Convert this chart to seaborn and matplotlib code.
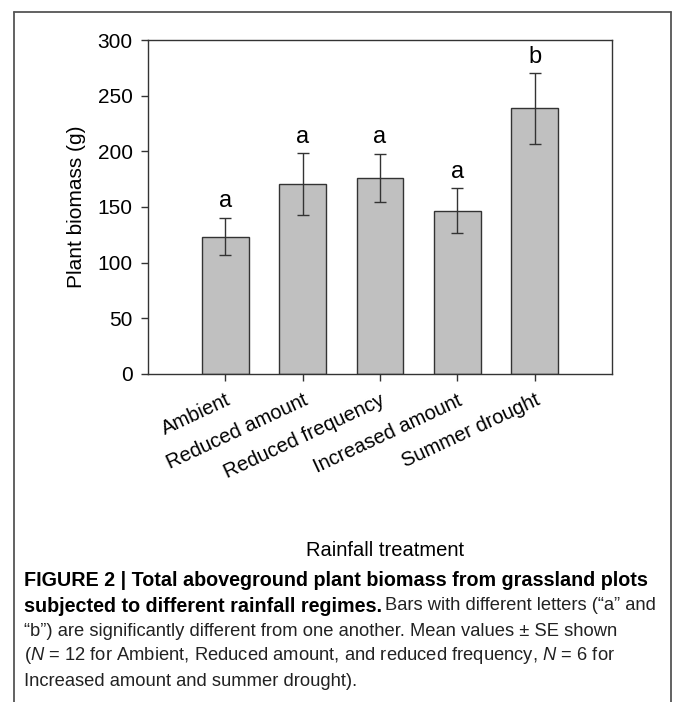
import matplotlib
matplotlib.use("Agg")
import matplotlib.pyplot as plt
from matplotlib.lines import Line2D
import seaborn as sns
import pandas as pd

categories = ["Ambient", "Reduced amount", "Reduced frequency", "Increased amount", "Summer drought"]
means = [123.5, 170.5, 176.0, 146.5, 238.5]
se = [16.6, 27.7, 21.7, 20.2, 31.7]
letters = ["a", "a", "a", "a", "b"]
yticks = [0, 50, 100, 150, 200, 250, 300]

sns.set_theme(style="white")
plt.rcParams["font.family"] = ["Liberation Sans", "DejaVu Sans"]
plt.rcParams["mathtext.fontset"] = "custom"
plt.rcParams["mathtext.it"] = "Liberation Sans:italic"
plt.rcParams["mathtext.rm"] = "Liberation Sans"

W, H = 674, 702
fig = plt.figure(figsize=(W / 100, H / 100), dpi=100)
ax = fig.add_axes([148 / W, 1 - 374 / H, (612 - 148) / W, (374 - 40) / H])

lc = "#333333"
df = pd.DataFrame({"treatment": categories, "biomass": means})
sns.barplot(data=df, x="treatment", y="biomass", color="#c0c0c0", edgecolor=lc,
            linewidth=1.0, width=0.6, saturation=1, errorbar=None, ax=ax)
ax.errorbar(range(len(categories)), means, yerr=se, fmt="none", ecolor=lc,
            elinewidth=1.0, capsize=4, capthick=1.0)
for i, (m, s, l) in enumerate(zip(means, se, letters)):
    ax.text(i, m + s + 5, l, ha="center", va="bottom", fontsize=17, color="black")

ax.set_xlim(-1, 5)
ax.set_ylim(0, 300)
ax.set_yticks(yticks)
ax.set_yticklabels([str(t) for t in yticks], fontsize=15, color="black")
ax.set_xticks(range(len(categories)))
ax.set_xticklabels(categories, rotation=25, ha="right", rotation_mode="anchor",
                   fontsize=14.5, color="black")
ax.tick_params(axis="both", which="both", direction="out", length=5, width=1,
               color=lc, bottom=True, left=True, top=False, right=False, pad=6)
ax.tick_params(axis="x", pad=7)
for sp in ax.spines.values():
    sp.set_visible(True)
    sp.set_color(lc)
    sp.set_linewidth(1.0)
ax.set_xlabel("")
ax.set_ylabel("Plant biomass (g)", fontsize=15, color="black", labelpad=8)
ax.grid(False)
fig.text(385 / W, 1 - 550 / H, "Rainfall treatment", fontsize=14.5, ha="center", va="center", color="black")

# outer frame
fc = "#555555"
fig.add_artist(Line2D([14 / W, 14 / W], [0, 1 - 12 / H], color=fc, lw=1.3))
fig.add_artist(Line2D([14 / W, 671 / W], [1 - 12 / H, 1 - 12 / H], color=fc, lw=1.3))
fig.add_artist(Line2D([671 / W, 671 / W], [0, 1 - 12 / H], color=fc, lw=1.3))

# caption
fsb = 14.2
fsr = 13.2
x0 = 24 / W
ys = [581, 606, 631, 656, 681]
fig.canvas.draw()
r = fig.canvas.get_renderer()
fig.text(x0, 1 - ys[0] / H, "FIGURE 2 | Total aboveground plant biomass from grassland plots",
         fontsize=fsb, fontweight="bold", va="center", color="black")
tb = fig.text(x0, 1 - ys[1] / H, "subjected to different rainfall regimes.",
              fontsize=fsb, fontweight="bold", va="center", color="black")
bb = tb.get_window_extent(renderer=r)
fig.text(bb.x1 / W + 3 / W, 1 - ys[1] / H, "Bars with different letters (\u201ca\u201d and",
         fontsize=fsr, va="center", color="#222222")
fig.text(x0, 1 - ys[2] / H, "\u201cb\u201d) are significantly different from one another. Mean values \u00b1 SE shown",
         fontsize=fsr, va="center", color="#222222")
fig.text(x0, 1 - ys[3] / H, "($N$ = 12 for Ambient, Reduced amount, and reduced frequency, $N$ = 6 for",
         fontsize=fsr, va="center", color="#222222")
fig.text(x0, 1 - ys[4] / H, "Increased amount and summer drought).",
         fontsize=fsr, va="center", color="#222222")

fig.savefig("out.png", dpi=100, facecolor="white")
